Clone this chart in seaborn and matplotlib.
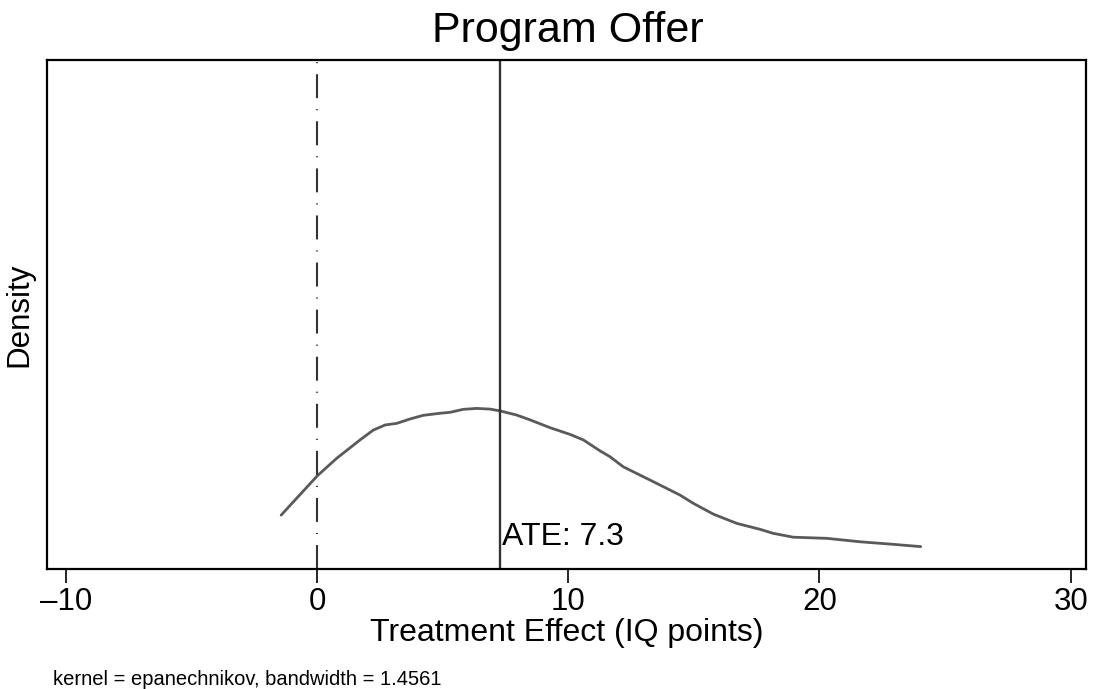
import matplotlib
matplotlib.use("Agg")
import matplotlib.pyplot as plt
import seaborn as sns
import pandas as pd

# Estimated density curve (x: treatment effect, y: density)
effect_x = [-1.43, 0.01, 0.78, 1.71, 2.24, 2.71, 3.17, 3.70, 4.23, 4.90, 5.29,
            5.82, 6.36, 6.89, 7.29, 7.95, 8.48, 9.28, 10.07, 10.60, 11.27, 11.66,
            12.19, 13.52, 14.45, 14.98, 15.78, 16.71, 17.64, 18.15, 18.95, 20.29,
            21.62, 22.93, 24.03]
density_y = [0.0233, 0.0404, 0.0480, 0.0560, 0.0603, 0.0625, 0.0632, 0.0651,
             0.0667, 0.0676, 0.0680, 0.0693, 0.0697, 0.0694, 0.0686, 0.0668,
             0.0647, 0.0613, 0.0584, 0.0560, 0.0512, 0.0487, 0.0443, 0.0371,
             0.0320, 0.0284, 0.0237, 0.0197, 0.0171, 0.0154, 0.0137, 0.0132,
             0.0117, 0.0106, 0.0096]
xticks = [-10, 0, 10, 20, 30]
ate = 7.3
ate_label = "ATE: 7.3"
title = "Program Offer"
xlabel = "Treatment Effect (IQ points)"
ylabel = "Density"
note = "kernel = epanechnikov, bandwidth = 1.4561"

sns.set_theme(style="ticks")
plt.rcParams['font.family'] = ['Liberation Sans', 'DejaVu Sans']

df = pd.DataFrame({"x": effect_x, "y": density_y})

fig = plt.figure(figsize=(10.95, 6.89), dpi=100)
ax = fig.add_axes([0.0425, 0.1746, 0.9493, 0.7383])

sns.lineplot(data=df, x="x", y="y", ax=ax, color="#5a5a5a", linewidth=2.0,
             sort=False, estimator=None)

ax.axvline(0, color="#333333", linewidth=1.5,
           linestyle=(0, (11.5, 5.3, 0.5, 5.3)), dash_capstyle="butt")
ax.axvline(ate, color="#333333", linewidth=1.7)

ax.text(ate + 0.05, 0.0138, ate_label, ha="left", va="center", fontsize=23,
        color="black")

ax.set_xlim(-10.77, 30.61)
ax.set_ylim(0, 0.2212)
ax.set_xticks(xticks)
ax.set_xticklabels([f"{t}".replace("-", "\u2013") for t in xticks])
ax.set_yticks([])
ax.tick_params(axis="x", direction="out", length=10, width=1.2, labelsize=22.5,
               colors="black", pad=3)

for s in ax.spines.values():
    s.set_visible(True)
    s.set_linewidth(1.6)
    s.set_color("black")

ax.set_xlabel(xlabel, fontsize=23, color="black", labelpad=1)
ax.set_ylabel(ylabel, fontsize=22.5, color="black", labelpad=9)
fig.text(0.5187, 0.955, title, ha="center", va="center", fontsize=31,
         color="black")
fig.text(0.048, 0.0, note, ha="left", va="bottom", fontsize=14.5,
         color="black")

fig.savefig("out.png", dpi=100, facecolor="white")
